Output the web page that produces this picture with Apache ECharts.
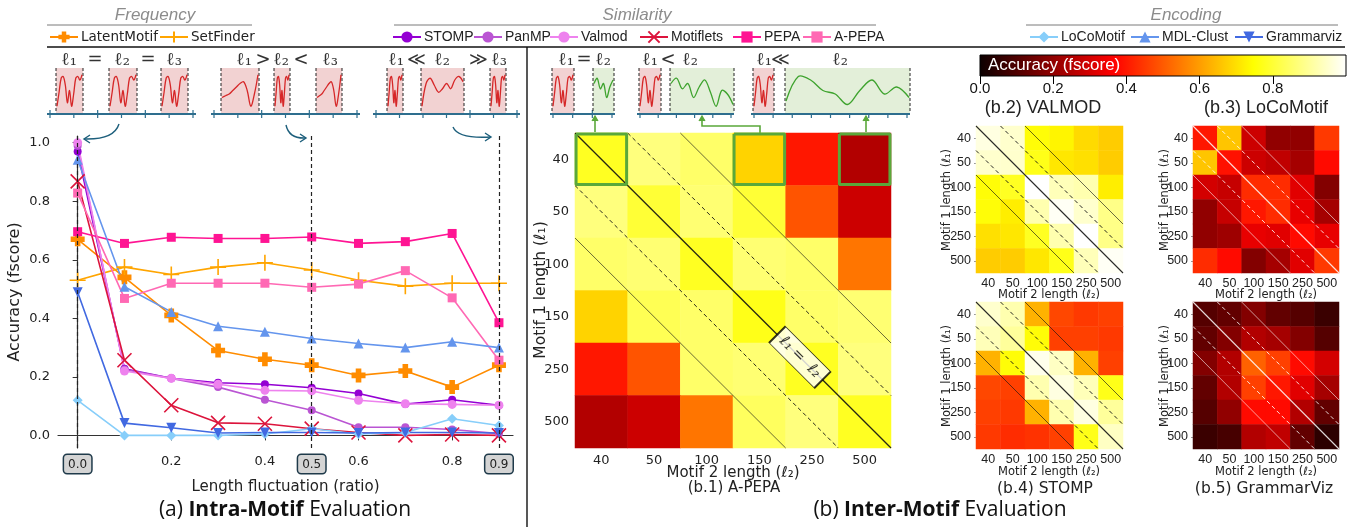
<!DOCTYPE html>
<html><head><meta charset="utf-8">
<script src="https://cdn.jsdelivr.net/npm/echarts@6/dist/echarts.min.js"></script>
<style>html,body{margin:0;padding:0;background:#fff}#c{width:1362px;height:527px}</style>
</head><body><div id="c"></div>
<script>
// ---------------- DATA ----------------
const fluctuation = [0, 0.1, 0.2, 0.3, 0.4, 0.5, 0.6, 0.7, 0.8, 0.9];
const latentMotif = [0.67, 0.54, 0.41, 0.29, 0.26, 0.24, 0.205, 0.22, 0.165, 0.24];
const setFinder   = [0.53, 0.575, 0.55, 0.575, 0.59, 0.565, 0.53, 0.51, 0.52, 0.52];
const stomp       = [0.97, 0.228, 0.195, 0.18, 0.175, 0.163, 0.143, 0.107, 0.122, 0.103];
const panMP       = [0.99, 0.225, 0.195, 0.165, 0.122, 0.086, 0.028, 0.028, 0.02, 0.006];
const valmod      = [1.0, 0.22, 0.195, 0.175, 0.154, 0.152, 0.12, 0.108, 0.106, 0.103];
const motiflets   = [0.868, 0.257, 0.103, 0.043, 0.04, 0.023, 0.01, 0.0, 0.003, 0.0];
const pepa        = [0.696, 0.656, 0.677, 0.673, 0.673, 0.678, 0.656, 0.662, 0.69, 0.385];
const aPepa       = [0.828, 0.468, 0.52, 0.52, 0.52, 0.506, 0.517, 0.563, 0.47, 0.257];
const locoMotif   = [0.12, 0.0, 0.0, 0.0, 0.005, 0.023, 0.005, 0.01, 0.057, 0.034];
const mdlClust    = [0.942, 0.508, 0.422, 0.373, 0.354, 0.331, 0.314, 0.30, 0.32, 0.30];
const grammarviz  = [0.489, 0.042, 0.026, 0.008, 0.01, 0.01, 0.008, 0.01, 0.01, 0.008];

const xTickValues = [0, 0.2, 0.4, 0.5, 0.6, 0.8, 0.9];
const xHighlighted = [0, 0.5, 0.9];
const yTickValues = [0, 0.2, 0.4, 0.6, 0.8, 1.0];

const lengthLabels = ['40', '50', '100', '150', '250', '500'];
// rows: motif 1 length (top->bottom), cols: motif 2 length
const aPepaMatrix = [
  [0.78, 0.87, 0.85, 0.68, 0.40, 0.25],
  [0.87, 0.80, 0.86, 0.80, 0.49, 0.29],
  [0.85, 0.86, 0.78, 0.86, 0.85, 0.54],
  [0.68, 0.83, 0.85, 0.77, 0.85, 0.86],
  [0.40, 0.49, 0.85, 0.86, 0.78, 0.87],
  [0.25, 0.29, 0.54, 0.84, 0.87, 0.78]];
const valmodMatrix = [
  [0.97, 0.95, 0.75, 0.73, 0.69, 0.67],
  [0.95, 0.95, 0.77, 0.71, 0.70, 0.67],
  [0.75, 0.78, 1.00, 0.93, 0.92, 0.72],
  [0.75, 0.72, 0.92, 0.99, 0.95, 0.88],
  [0.70, 0.71, 0.78, 0.92, 1.00, 0.88],
  [0.67, 0.67, 0.71, 0.77, 0.93, 0.99]];
const locoMotifMatrix = [
  [0.40, 0.66, 0.29, 0.20, 0.20, 0.45],
  [0.66, 0.39, 0.29, 0.27, 0.23, 0.38],
  [0.30, 0.28, 0.43, 0.43, 0.32, 0.18],
  [0.20, 0.28, 0.40, 0.43, 0.33, 0.23],
  [0.20, 0.22, 0.33, 0.32, 0.38, 0.33],
  [0.43, 0.38, 0.18, 0.23, 0.32, 0.45]];
const stompMatrix = [
  [0.95, 0.92, 0.63, 0.47, 0.45, 0.46],
  [0.93, 0.90, 0.75, 0.46, 0.46, 0.45],
  [0.63, 0.75, 0.98, 0.94, 0.63, 0.46],
  [0.47, 0.46, 0.92, 0.97, 0.93, 0.77],
  [0.46, 0.45, 0.63, 0.92, 0.97, 0.90],
  [0.45, 0.43, 0.44, 0.46, 0.77, 0.94]];
const grammarvizMatrix = [
  [0.11, 0.13, 0.18, 0.13, 0.11, 0.07],
  [0.13, 0.18, 0.25, 0.23, 0.18, 0.11],
  [0.18, 0.25, 0.51, 0.46, 0.38, 0.30],
  [0.13, 0.25, 0.46, 0.40, 0.32, 0.23],
  [0.11, 0.20, 0.38, 0.38, 0.25, 0.13],
  [0.07, 0.09, 0.25, 0.27, 0.13, 0.05]];
const highlightCells = [[0, 0], [0, 3], [0, 5]]; // [row, col] in A-PEPA
const colorbarTicks = [0, 0.2, 0.4, 0.6, 0.8];

// ---------------- STYLE HELPERS ----------------
function hot(v) {
  const r = Math.min(1, 0.0416 + v / 0.365 * 0.9584);
  const g = Math.max(0, Math.min(1, (v - 0.365) / 0.381));
  const b = Math.max(0, Math.min(1, (v - 0.746) / 0.254));
  return 'rgb(' + Math.round(r * 255) + ',' + Math.round(g * 255) + ',' + Math.round(b * 255) + ')';
}
const hotColors = [];
for (let i = 0; i <= 50; i++) hotColors.push(hot(i / 50));

const FONT = '"DejaVu Sans", sans-serif';
const NARROW = '"Liberation Sans Narrow", "Liberation Sans", sans-serif';
const ARIAL = '"Liberation Sans", sans-serif';

const chart = echarts.init(document.getElementById('c'), null, { renderer: 'canvas' });

const lineDefs = [
  { name: 'LatentMotif', data: latentMotif, color: '#ff8c00', symbol: 'path://M3,0 H7 V3 H10 V7 H7 V10 H3 V7 H0 V3 H3 Z', size: 14 },
  { name: 'SetFinder', data: setFinder, color: '#ffa500', symbol: 'path://M5,0 V10 M0,5 H10', size: 16, stroke: true },
  { name: 'STOMP', data: stomp, color: '#9400d3', symbol: 'circle', size: 8 },
  { name: 'PanMP', data: panMP, color: '#ba55d3', symbol: 'circle', size: 8 },
  { name: 'Valmod', data: valmod, color: '#ee82ee', symbol: 'circle', size: 9 },
  { name: 'Motiflets', data: motiflets, color: '#dc143c', symbol: 'path://M0,0 L10,10 M10,0 L0,10', size: 14, stroke: true },
  { name: 'PEPA', data: pepa, color: '#ff1493', symbol: 'rect', size: 9 },
  { name: 'A-PEPA', data: aPepa, color: '#ff69b4', symbol: 'rect', size: 9 },
  { name: 'LoCoMotif', data: locoMotif, color: '#87cefa', symbol: 'diamond', size: 10 },
  { name: 'MDL-Clust', data: mdlClust, color: '#6495ed', symbol: 'triangle', size: 10 },
  { name: 'Grammarviz', data: grammarviz, color: '#4169e1', symbol: 'path://M0,0 H10 L5,9 Z', size: 10 }
];

const series = [];
lineDefs.forEach((d, i) => {
  const s = {
    type: 'line', name: d.name, xAxisIndex: 0, yAxisIndex: 0,
    data: fluctuation.map((x, j) => [x, d.data[j]]),
    symbol: d.symbol, symbolSize: d.size, showAllSymbol: true,
    lineStyle: { color: d.color, width: 1.6 },
    itemStyle: d.stroke ? { color: d.color, borderColor: d.color, borderWidth: 1.6 } : { color: d.color },
    emphasis: { disabled: true }, animation: false, z: 3
  };
  if (i === 0) {
    s.markLine = {
      silent: true, symbol: 'none', label: { show: false },
      lineStyle: { color: '#222', type: [4, 3], width: 1.2 },
      data: xHighlighted.map(v => ({ xAxis: v }))
    };
  }
  series.push(s);
});

// heatmaps
const heatDefs = [
  { m: aPepaMatrix, grid: 1, dark: false, big: true },
  { m: valmodMatrix, grid: 2, dark: false },
  { m: locoMotifMatrix, grid: 3, dark: true },
  { m: stompMatrix, grid: 4, dark: false },
  { m: grammarvizMatrix, grid: 5, dark: true }
];
const heatSeriesIdx = [];
function toCells(matrix) {
  const out = [];
  matrix.forEach((row, r) => row.forEach((v, c) => out.push([c, r, v])));
  return out;
}
function diag(k) { return k >= 0 ? [[k, 0], [6, 6 - k]] : [[0, -k], [6 + k, 6]]; }
heatDefs.forEach((h, i) => {
  heatSeriesIdx.push(series.length);
  series.push({
    type: 'heatmap', xAxisIndex: h.grid, yAxisIndex: h.grid, data: toCells(h.m),
    emphasis: { disabled: true }, animation: false, itemStyle: { borderWidth: 0 }
  });
  const ov = 5 + h.grid;
  const col = h.dark ? '#ffffff' : '#111111';
  [[0, 'solid', h.big ? 1.3 : 1.1], [1, [4, 3], 1], [-1, [4, 3], 1], [2, 'solid', 0.7], [-2, 'solid', 0.7]].forEach(([k, t, w]) => {
    series.push({
      type: 'line', xAxisIndex: ov, yAxisIndex: ov, data: diag(k), symbol: 'none', clip: false,
      lineStyle: { color: col, type: t, width: w, opacity: h.dark ? 0.85 : 0.9 }, silent: true, animation: false, z: 5
    });
  });
  if (h.big) {
    highlightCells.forEach(([r, c]) => {
      series.push({
        type: 'line', xAxisIndex: ov, yAxisIndex: ov, clip: false, symbol: 'none', silent: true, animation: false, z: 6,
        data: [[c + 0.02, r + 0.02], [c + 0.98, r + 0.02], [c + 0.98, r + 0.98], [c + 0.02, r + 0.98], [c + 0.02, r + 0.02]],
        lineStyle: { color: '#5aa83a', width: 3 }
      });
    });
    series.push({
      type: 'scatter', xAxisIndex: ov, yAxisIndex: ov, data: [[4.27, 4.27]], silent: true, animation: false, z: 7,
      symbol: 'rect', symbolSize: [64, 23], symbolRotate: -45,
      itemStyle: { color: '#fff', borderColor: '#000', borderWidth: 1.2 },
      label: { show: true, position: 'inside', formatter: 'ℓ₁ =  ℓ₂', rotate: -45, fontSize: 15, color: '#000', fontFamily: FONT, fontStyle: 'italic' }
    });
  }
});

// ---------------- GRIDS & AXES ----------------
const grids = [
  { left: 58, top: 136, width: 455, height: 312 },
  { left: 575, top: 133, width: 316, height: 315 },
  { left: 976, top: 126, width: 147, height: 147 },
  { left: 1193, top: 126, width: 146, height: 147 },
  { left: 976, top: 302, width: 147, height: 147 },
  { left: 1193, top: 302, width: 146, height: 147 },
  { left: 980, top: 55, width: 366, height: 21, show: true, borderColor: '#000', borderWidth: 1,
    backgroundColor: new echarts.graphic.LinearGradient(0, 0, 1, 0, [
      { offset: 0, color: hot(0) }, { offset: 0.365, color: hot(0.365) }, { offset: 0.746, color: hot(0.746) }, { offset: 1, color: hot(1) }]) }
];

const xAxes = [{
  type: 'value', gridIndex: 0, min: -0.042, max: 0.93,
  axisLine: { show: true, lineStyle: { color: '#333', width: 1.2 } },
  axisTick: { show: true, customValues: xTickValues, lineStyle: { color: '#333' }, length: 5 },
  axisLabel: {
    customValues: xTickValues, color: '#222', fontSize: 13, fontFamily: FONT, margin: 7,
    formatter: v => { const s = v.toFixed(1); return xHighlighted.some(h => Math.abs(h - v) < 1e-6) ? '{hl|' + s + '}' : s; },
    rich: { hl: { backgroundColor: '#d4d4d4', borderColor: '#1f3a4a', borderWidth: 1.5, borderRadius: 3, padding: [4, 4, 2, 4], fontSize: 12, fontFamily: FONT, color: '#222' } }
  },
  splitLine: { show: false },
  name: 'Length fluctuation (ratio)', nameLocation: 'middle', nameGap: 30,
  nameTextStyle: { fontSize: 15, fontFamily: FONT, color: '#222' }
}];
const yAxes = [{
  type: 'value', gridIndex: 0, min: -0.043, max: 1.023,
  axisLine: { show: true, lineStyle: { color: '#333', width: 1.2 } },
  axisTick: { show: true, customValues: yTickValues, lineStyle: { color: '#333' }, length: 5 },
  axisLabel: { customValues: yTickValues, formatter: v => v.toFixed(1), color: '#222', fontSize: 13, fontFamily: FONT },
  splitLine: { show: false },
  name: 'Accuracy (fscore)', nameLocation: 'middle', nameGap: 35,
  nameTextStyle: { fontSize: 16, fontFamily: FONT, color: '#222' }
}];
heatDefs.forEach(h => {
  const big = !!h.big;
  xAxes.push({
    type: 'category', gridIndex: h.grid, data: lengthLabels,
    axisLine: { show: false }, axisTick: { show: !big, length: 2, alignWithLabel: true, lineStyle: { color: '#999' } },
    axisLabel: { interval: 0, fontSize: big ? 13 : 12.5, fontFamily: big ? FONT : ARIAL, color: '#222', margin: big ? 6 : 4 },
    splitLine: { show: false }
  });
  yAxes.push({
    type: 'category', gridIndex: h.grid, data: lengthLabels, inverse: true,
    axisLine: { show: false }, axisTick: { show: !big, length: 2, alignWithLabel: true, lineStyle: { color: '#999' } },
    axisLabel: { interval: 0, fontSize: big ? 13 : 12.5, fontFamily: big ? FONT : ARIAL, color: '#222', margin: big ? 6 : 5 },
    splitLine: { show: false }
  });
});
heatDefs.forEach(h => {
  xAxes.push({ type: 'value', gridIndex: h.grid, min: 0, max: 6, show: false });
  yAxes.push({ type: 'value', gridIndex: h.grid, min: 0, max: 6, inverse: true, show: false });
});
xAxes.push({
  type: 'value', gridIndex: 6, min: 0, max: 1,
  axisLine: { show: false }, splitLine: { show: false },
  axisTick: { show: true, customValues: colorbarTicks, length: 8, lineStyle: { color: '#000' } },
  axisLabel: { customValues: colorbarTicks, formatter: v => v.toFixed(1), fontSize: 15, fontFamily: NARROW, color: '#111', margin: 5 }
});
yAxes.push({ type: 'value', gridIndex: 6, show: false, min: 0, max: 1 });

// ---------------- LEGENDS ----------------
const legendPos = [
  ['LatentMotif', 49, FONT, 13.5], ['SetFinder', 159, FONT, 13.5],
  ['STOMP', 392, NARROW, 14], ['PanMP', 473, NARROW, 14], ['Valmod', 549, NARROW, 14],
  ['Motiflets', 639, NARROW, 14], ['PEPA', 732, NARROW, 14], ['A-PEPA', 802, NARROW, 14],
  ['LoCoMotif', 1029, NARROW, 14], ['MDL-Clust', 1130, NARROW, 14], ['Grammarviz', 1234, NARROW, 14]
];
const legends = legendPos.map(([n, x, f, fs]) => ({
  data: [n], left: x, top: 30, padding: 0, itemWidth: 28, itemHeight: 14, itemGap: 0,
  selectedMode: false, textStyle: { fontSize: fs, fontFamily: f, color: '#222', padding: [0, 0, 0, -2] }
}));

// ---------------- DECORATION (graphic) ----------------
const G = [];
function txt(x, y, s, opt, rot) {
  const el = { type: 'text', x: x, y: y, silent: true,
    style: Object.assign({ text: s, fill: '#222', font: '14px ' + FONT, textAlign: 'center', textVerticalAlign: 'middle' }, opt || {}) };
  if (rot) el.rotation = rot;
  G.push(el);
}
function line(x1, y1, x2, y2, stroke, w, dash) {
  G.push({ type: 'line', silent: true, shape: { x1, y1, x2, y2 }, style: { stroke, lineWidth: w, lineDash: dash || null } });
}
// heatmap axis names
txt(733, 473, 'Motif 2 length (ℓ₂)', { font: '15px ' + FONT });
txt(541, 290, 'Motif 1 length (ℓ₁)', { font: '15.5px ' + FONT }, Math.PI / 2);
[[1049, 295], [1266, 295], [1049, 472], [1266, 472]].forEach(([x, y]) => txt(x, y, 'Motif 2 length (ℓ₂)', { font: '11.5px ' + FONT }));
[[947, 200], [1165, 200], [947, 376], [1165, 376]].forEach(([x, y]) => txt(x, y, 'Motif 1 length (ℓ₁)', { font: '11.5px ' + FONT }, Math.PI / 2));
// group headers
[['Frequency', 155, 47, 252], ['Similarity', 637, 394, 876], ['Encoding', 1186, 1026, 1338]].forEach(([s, cx, a, b]) => {
  txt(cx, 15, s, { fill: '#8c8c8c', font: 'italic 17px ' + NARROW });
  line(a, 25, b, 25, '#7a7a7a', 1);
});
line(47, 47, 1345, 47, '#111', 1.6);
line(527, 47, 527, 527, '#111', 1.4);

// inset sketches
const redShapeA = [0.95, 0.55, 0.15, 0.1, 0.35, 0.85, 0.5, 0.95, 0.6, 0.15, 0.1, 0.2, 0.05];
const redShapeB = [0.7, 0.65, 0.6, 0.5, 0.4, 0.3, 0.25, 0.5, 0.95, 0.6, 0.05];
const redShapeC = [0.95, 0.3, 0.15, 0.35, 0.55, 0.45, 0.3, 0.45, 0.2, 0.1, 0.25];
const greenShape = [0.3, 0.15, 0.45, 0.3, 0.7, 0.4, 0.2, 0.55, 0.95, 0.5, 0.6, 0.9];
function squiggle(x0, x1, pts, color) {
  const y0 = 73, y1 = 108;
  const p = pts.map((v, i) => [x0 + 1 + (x1 - x0 - 2) * i / (pts.length - 1), y0 + v * (y1 - y0)]);
  G.push({ type: 'polyline', silent: true, shape: { points: p, smooth: 0.35 }, style: { stroke: color, lineWidth: 1.3, fill: null } });
}
function box(x0, x1, fill) {
  G.push({ type: 'rect', silent: true, shape: { x: x0, y: 68, width: x1 - x0, height: 45 }, style: { fill: fill } });
  line(x0, 68, x0, 113, '#222', 1, [3, 2]);
  line(x1, 68, x1, 113, '#222', 1, [3, 2]);
}
function tAxis(a, b, n) {
  line(a, 114, b, 114, '#2e6e8e', 2);
  for (let i = 0; i <= n; i++) { const x = a + 3 + (b - a - 6) * i / n; line(x, 110, x, 118, '#2e6e8e', 1.2); }
}
const PINK = '#f2d2d2', GREEN = '#e3efd9', RED = '#d62728', GRN = '#3ea32e';
// left panel insets
tAxis(47, 196, 6);
[[56, 83], [109, 137], [161, 188]].forEach(([a, b]) => { box(a, b, PINK); squiggle(a, b, redShapeA, RED); });
tAxis(211, 360, 6);
box(221, 259, PINK); squiggle(221, 259, redShapeB, RED);
box(274, 290, PINK); squiggle(274, 290, redShapeA, RED);
box(316, 342, PINK); squiggle(316, 342, redShapeB, RED);
tAxis(373, 520, 6);
box(387, 403, PINK); squiggle(387, 403, redShapeA, RED);
box(421, 464, PINK); squiggle(421, 464, redShapeC, RED);
box(490, 506, PINK); squiggle(490, 506, redShapeA, RED);
const LF = '18px "DejaVu Serif", serif';
[[69, 'ℓ₁'], [95, '='], [122, 'ℓ₂'], [148, '='], [174, 'ℓ₃'],
 [244, 'ℓ₁'], [263, '>'], [281, 'ℓ₂'], [301, '<'], [330, 'ℓ₃'],
 [396, 'ℓ₁'], [416, '≪'], [442, 'ℓ₂'], [478, '≫'], [499, 'ℓ₃']].forEach(([x, s]) => txt(x, 60, s, { font: LF, fill: '#333' }));
// middle insets
tAxis(550, 615, 3);
box(552, 574, PINK); squiggle(552, 574, redShapeA, RED);
box(593, 614, GREEN); squiggle(593, 614, greenShape.slice(0, 7), GRN);
tAxis(637, 734, 5);
box(639, 661, PINK); squiggle(639, 661, redShapeA, RED);
box(670, 734, GREEN); squiggle(670, 734, greenShape, GRN);
tAxis(751, 910, 8);
box(753, 774, PINK); squiggle(753, 774, redShapeA, RED);
box(785, 910, GREEN); squiggle(785, 910, [0.8, 0.1, 0.2, 0.5, 0.6, 0.9, 0.5, 0.2, 0.6, 0.4, 0.7], GRN);
[[566, 'ℓ₁'], [584, '='], [603, 'ℓ₂'], [650, 'ℓ₁'], [668, '<'], [690, 'ℓ₂'], [764, 'ℓ₁'], [780, '≪'], [840, 'ℓ₂']].forEach(([x, s]) => txt(x, 60, s, { font: LF, fill: '#333' }));
// teal curved arrows
const TEAL = '#1d5f7c';
[[119, 124, 84, 139, 114, 140, -1], [286, 125, 306, 138, 289, 139, 1], [453, 127, 491, 137, 458, 139, 1]].forEach(([x1, y1, x2, y2, cx, cy, dir]) => {
  G.push({ type: 'bezierCurve', silent: true, shape: { x1, y1, x2, y2, cpx1: cx, cpy1: cy }, style: { stroke: TEAL, lineWidth: 1.4, fill: null } });
  G.push({ type: 'polyline', silent: true, shape: { points: [[x2 - 6 * dir, y2 - 4], [x2, y2], [x2 - 6 * dir, y2 + 4]] }, style: { stroke: TEAL, lineWidth: 1.4, fill: null } });
});
// green arrows from highlighted cells
const GA = '#5aa83a';
function upArrow(x, yTop) {
  G.push({ type: 'polyline', silent: true, shape: { points: [[x - 3, yTop + 5], [x, yTop], [x + 3, yTop + 5]] }, style: { stroke: GA, fill: GA, lineWidth: 1.2 } });
}
line(595, 132, 595, 117, GA, 1.6); upArrow(595, 116);
G.push({ type: 'polyline', silent: true, shape: { points: [[760, 133], [760, 126], [702, 126], [702, 117]] }, style: { stroke: GA, lineWidth: 1.6, fill: null } }); upArrow(702, 116);
line(866, 132, 866, 117, GA, 1.6); upArrow(866, 116);
// colorbar label
txt(988, 65, 'Accuracy (fscore)', { fill: '#fff', font: '17px ' + NARROW, textAlign: 'left' });
// titles
txt(734, 488, '(b.1) A-PEPA', { font: '15px ' + FONT });
txt(1043, 108, '(b.2) VALMOD', { font: '18px ' + NARROW });
txt(1266, 108, '(b.3) LoCoMotif', { font: '18px ' + NARROW });
txt(1045, 489, '(b.4) STOMP', { font: '15.5px ' + FONT });
txt(1264, 489, '(b.5) GrammarViz', { font: '15.5px ' + FONT });
G.push({ type: 'text', x: 285, y: 510, silent: true, style: {
  text: '{n|(a) }{b|Intra-Motif}{n| Evaluation}', textAlign: 'center', textVerticalAlign: 'middle',
  rich: { n: { fontSize: 21, fontFamily: '"Open Sans", sans-serif', fill: '#111' }, b: { fontSize: 21, fontWeight: 'bold', fontFamily: '"Open Sans", sans-serif', fill: '#111' } } } });
G.push({ type: 'text', x: 940, y: 510, silent: true, style: {
  text: '{n|(b) }{b|Inter-Motif}{n| Evaluation}', textAlign: 'center', textVerticalAlign: 'middle',
  rich: { n: { fontSize: 21, fontFamily: '"Open Sans", sans-serif', fill: '#111' }, b: { fontSize: 21, fontWeight: 'bold', fontFamily: '"Open Sans", sans-serif', fill: '#111' } } } });

chart.setOption({
  animation: false,
  backgroundColor: '#fff',
  grid: grids,
  xAxis: xAxes,
  yAxis: yAxes,
  legend: legends,
  visualMap: { type: 'continuous', show: false, min: 0, max: 1, seriesIndex: heatSeriesIdx, inRange: { color: hotColors } },
  series: series,
  graphic: G
});
</script>
</body></html>
